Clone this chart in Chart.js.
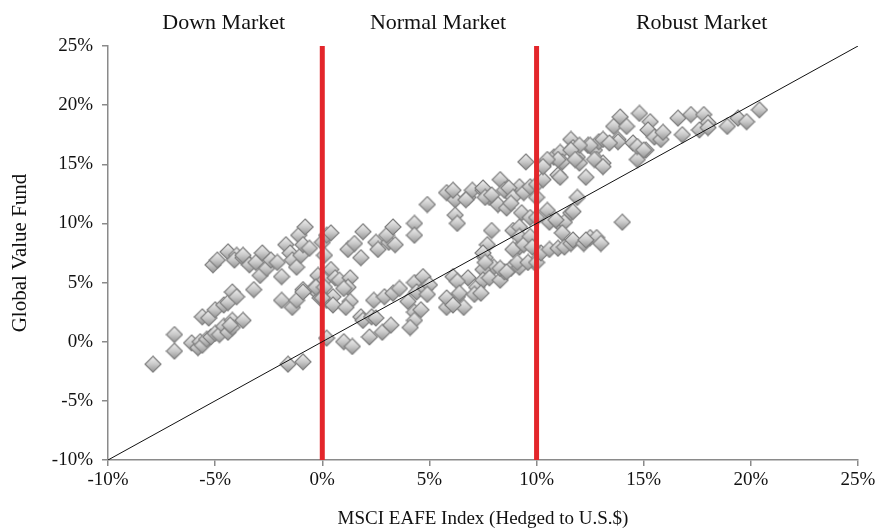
<!DOCTYPE html>
<html>
<head>
<meta charset="utf-8">
<script src="https://cdn.jsdelivr.net/npm/chart.js@4/dist/chart.umd.min.js"></script>
<style>
  body { margin: 0; background: #fff; }
</style>
</head>
<body>
<canvas id="myChart" width="875" height="530"></canvas>
<script>
// MSCI EAFE (x) vs Global Value Fund (y), in percent
var eafeX = [
  -7.9,-6.9,-6.9,-6.1,-5.8,-5.7,-5.6,-5.4,-5.2,-5.0,-4.8,-4.6,-4.4,-4.2,-4.2,-3.7,-4.3,-5.6,-5.3,-5.0,-4.6,-4.4,-4.2,-4.0,-3.2,
  -5.1,-4.9,-4.4,-4.0,-4.1,-3.7,-3.7,-3.4,-3.1,-2.8,-2.9,-2.6,-2.4,-2.1,-1.9,-1.7,-1.5,-1.4,-1.2,-1.1,-1.0,-0.9,-0.8,-0.6,0.0,0.2,
  -1.9,-1.4,-1.2,-0.9,-0.4,-0.2,-0.1,0.2,-1.6,-0.9,0.2,0.4,0.1,0.4,-0.2,0.1,0.6,0.8,1.3,1.2,1.0,-0.3,0.1,0.5,0.0,0.5,1.3,1.1,-0.9,1.0,1.4,
  1.2,1.5,1.8,1.9,2.5,2.6,3.1,3.0,3.3,3.4,4.3,4.3,4.9,
  1.8,1.9,2.3,2.5,2.2,2.8,3.2,2.4,2.9,3.3,3.6,4.0,4.3,4.4,4.7,4.8,5.0,4.9,4.3,4.6,4.3,4.1,
  5.8,6.2,6.2,6.3,6.8,7.0,7.5,7.8,8.2,8.6,8.6,9.2,9.3,7.9,7.7,8.9,9.2,8.9,7.6,8.0,7.5,6.1,6.8,6.3,5.8,6.3,6.6,6.4,7.2,7.5,7.8,8.3,8.5,8.8,9.2,9.9,7.1,7.4,5.8,6.1,
  6.1,6.7,7.5,7.6,7.9,8.3,8.5,8.7,8.9,8.8,9.4,9.7,10.0,10.0,10.3,9.7,10.0,10.5,10.6,11.0,11.3,11.6,
  7.5,7.6,8.3,8.6,9.1,9.6,10.0,10.2,10.6,11.0,11.3,11.6,11.7,12.2,12.5,12.8,13.0,9.2,9.2,9.4,9.7,9.8,14.0,11.2,9.5,10.3,
  10.8,11.1,11.2,11.6,11.7,11.9,12.0,12.4,12.7,12.9,13.1,12.8,13.1,13.6,13.8,13.9,14.2,14.5,14.8,15.1,14.7,11.0,12.3,11.9,
  15.3,15.2,15.5,15.8,15.9,14.7,15.0,13.8,13.4,12.5,12.0,11.6,11.0,10.5,10.3,11.8,12.7,13.1,11.1,11.7,10.9,
  16.6,17.2,17.8,18.0,16.8,17.6,18.0,18.9,19.4,19.8,20.4,12.3
];
var fundY = [
  -1.9,0.6,-0.8,-0.1,-0.5,0.0,-0.3,0.2,0.4,0.7,0.6,1.3,0.8,1.8,1.2,1.8,1.4,2.1,2.0,2.7,3.1,3.3,4.2,3.8,4.4,
  6.5,6.9,7.6,7.3,6.9,7.1,7.3,6.5,6.7,7.5,5.6,6.2,6.9,6.7,5.5,8.2,7.5,6.9,6.3,9.0,7.3,8.2,9.7,7.9,8.4,9.0,
  3.5,2.9,3.5,4.4,4.5,4.1,3.7,3.5,-1.9,-1.7,0.3,9.2,7.3,6.1,5.6,5.2,5.4,5.2,5.4,4.6,4.5,4.6,4.6,3.8,3.7,3.1,3.4,2.9,4.2,0.0,-0.4,
  7.8,8.3,7.1,9.3,8.4,7.8,8.4,9.0,9.7,8.2,10.0,9.0,11.6,
  2.1,1.8,2.1,2.0,0.4,0.8,1.4,3.5,3.8,4.1,4.5,3.4,5.0,4.2,5.5,4.5,4.8,4.0,2.5,2.7,1.8,1.2,
  12.6,12.0,10.7,10.0,12.2,12.8,12.8,12.2,11.6,11.3,12.8,13.1,10.9,9.4,8.2,9.4,8.0,7.8,7.1,6.3,6.1,5.5,5.4,5.1,2.9,3.8,2.9,4.1,4.6,5.2,5.4,5.2,5.9,6.2,6.3,6.7,4.0,4.1,3.7,3.1,
  12.8,12.0,13.0,12.2,12.4,13.7,12.8,13.0,12.2,11.7,12.6,13.1,13.3,12.2,13.7,10.5,10.5,11.1,10.1,10.1,10.1,10.9,
  7.5,6.7,6.2,5.9,6.7,6.7,6.7,7.5,7.8,7.9,8.0,8.3,8.6,8.3,8.8,8.8,8.3,9.7,8.9,8.2,8.9,8.0,10.1,9.2,15.2,14.9,
  15.6,16.0,15.2,17.1,16.4,15.6,15.1,16.6,16.2,16.9,17.1,15.4,15.1,18.2,17.1,19.0,18.2,16.8,19.3,16.2,15.4,14.1,13.9,12.2,
  18.6,17.9,17.3,17.1,17.7,16.5,16.2,16.9,16.8,16.6,16.6,16.2,15.4,15.4,14.8,15.4,15.4,14.8,13.9,11.0,10.3,
  18.9,19.2,19.2,18.5,17.5,17.9,18.1,18.2,18.9,18.6,19.6,8.6
];
var tickValues = [-10, -5, 0, 5, 10, 15, 20, 25];
var marketLabels = ['Down Market', 'Normal Market', 'Robust Market'];
var marketLabelX = [-4.6, 5.4, 17.7];
var marketBreaks = [0, 10];

var points = [];
for (var i = 0; i < eafeX.length; i++) {
  points.push({x: eafeX[i], y: fundY[i]});
}

// grey shaded diamond marker
var marker = document.createElement('canvas');
marker.width = 18;
marker.height = 18;
var mctx = marker.getContext('2d');
var grad = mctx.createLinearGradient(0, 1, 0, 17);
grad.addColorStop(0, '#f2f2f2');
grad.addColorStop(0.5, '#c9c9c9');
grad.addColorStop(1, '#939393');
mctx.beginPath();
mctx.moveTo(9, 1);
mctx.lineTo(17, 9);
mctx.lineTo(9, 17);
mctx.lineTo(1, 9);
mctx.closePath();
mctx.fillStyle = grad;
mctx.fill();
mctx.strokeStyle = '#7f7f7f';
mctx.lineWidth = 1.2;
mctx.stroke();

var serif = 'Liberation Serif';

var topLabels = {
  id: 'topLabels',
  afterDraw: function(chart) {
    var c = chart.ctx;
    var xs = chart.scales.x;
    c.save();
    c.font = '22px "' + serif + '"';
    c.fillStyle = '#111';
    c.textAlign = 'center';
    c.textBaseline = 'middle';
    for (var j = 0; j < marketLabels.length; j++) {
      c.fillText(marketLabels[j], xs.getPixelForValue(marketLabelX[j]), 23);
    }
    c.restore();
  }
};

var datasets = [{
  label: 'diag',
  type: 'line',
  data: [{x: tickValues[0], y: tickValues[0]}, {x: tickValues[tickValues.length - 1], y: tickValues[tickValues.length - 1]}],
  borderColor: '#111',
  borderWidth: 1,
  pointRadius: 0,
  order: 0
}];
for (var k = 0; k < marketBreaks.length; k++) {
  datasets.push({
    label: 'break' + k,
    type: 'line',
    data: [{x: marketBreaks[k], y: tickValues[0]}, {x: marketBreaks[k], y: tickValues[tickValues.length - 1]}],
    borderColor: '#e3262b',
    borderWidth: 5,
    pointRadius: 0,
    order: 1
  });
}
datasets.push({
  label: 'Global Value Fund',
  type: 'scatter',
  data: points,
  pointStyle: marker,
  pointRadius: 9,
  order: 2
});

var ctx = document.getElementById('myChart').getContext('2d');
var myChart = new Chart(ctx, {
  type: 'scatter',
  data: { datasets: datasets },
  plugins: [topLabels],
  options: {
    responsive: false,
    animation: false,
    layout: { padding: { top: 46, right: 17, left: 0, bottom: 0 } },
    plugins: { legend: { display: false }, tooltip: { enabled: false } },
    scales: {
      x: {
        type: 'linear',
        min: -10, max: 25,
        afterBuildTicks: function(s) { s.ticks = tickValues.map(function(v) { return {value: v}; }); },
        ticks: {
          color: '#111', padding: 3, maxRotation: 0,
          font: { family: serif, size: 19 },
          callback: function(v) { return v + '%'; }
        },
        grid: { drawOnChartArea: false, color: '#8a8a8a', tickLength: 6, lineWidth: 1.5 },
        border: { color: '#8a8a8a', width: 1.5 },
        title: {
          display: true, text: 'MSCI EAFE Index (Hedged to U.S.$)',
          color: '#111', font: { family: serif, size: 19 }, padding: { top: 10, bottom: 0 }
        },
        afterFit: function(s) { s.height = 70; s.paddingLeft = 0; s.paddingRight = 0; }
      },
      y: {
        type: 'linear',
        min: -10, max: 25,
        afterBuildTicks: function(s) { s.ticks = tickValues.map(function(v) { return {value: v}; }); },
        ticks: {
          color: '#111', padding: 9,
          font: { family: serif, size: 19 },
          callback: function(v) { return v + '%'; }
        },
        grid: { drawOnChartArea: false, color: '#8a8a8a', tickLength: 6, lineWidth: 1.5 },
        border: { color: '#8a8a8a', width: 1.5 },
        title: {
          display: true, text: 'Global Value Fund',
          color: '#111', font: { family: serif, size: 21 }, padding: { top: 8, bottom: 4 }
        },
        afterFit: function(s) { s.width = 108; s.paddingTop = 0; s.paddingBottom = 0; }
      }
    }
  }
});
</script>
</body>
</html>
